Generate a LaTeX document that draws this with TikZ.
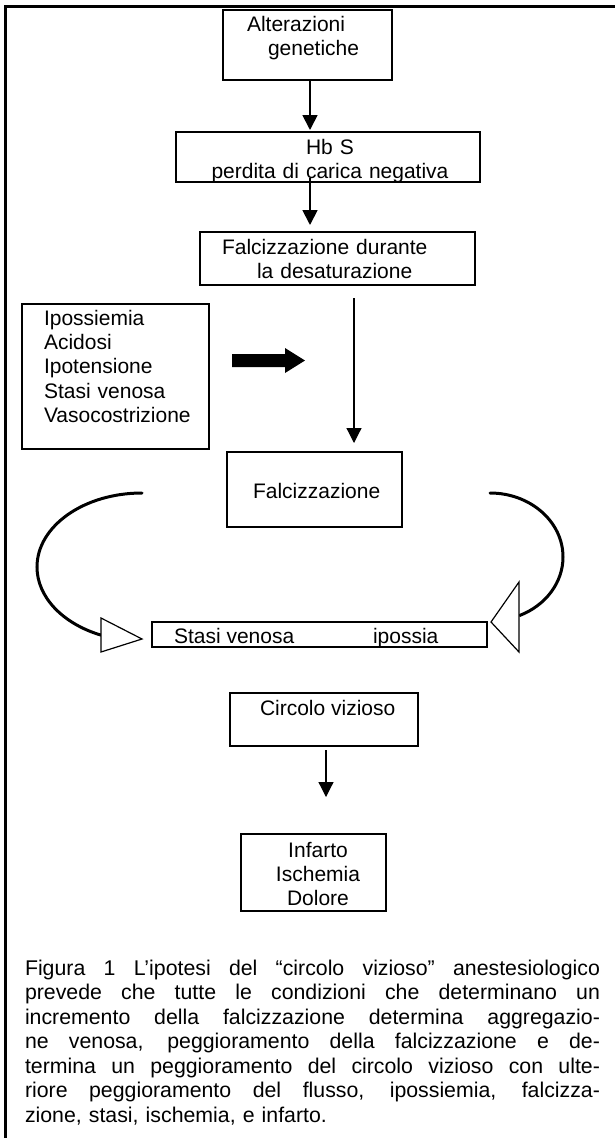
\documentclass[tikz,border=0pt]{standalone}
\usepackage{fontspec}
\setmainfont{Liberation Sans}
\usetikzlibrary{arrows.meta}
\newcommand{\jline}[1]{\makebox[575pt][s]{\spaceskip=5.9pt plus 1fil\xspaceskip=5.9pt plus 1fil\relax #1}}
\begin{document}
\begin{tikzpicture}[x=1pt,y=-1pt,
  every node/.style={font=\fontsize{21}{24.4}\selectfont, inner sep=0pt, outer sep=0pt},
  box/.style 2 args={draw, line width=1.8pt, minimum width=#1, minimum height=#2},
  arr/.style={-{Triangle[length=15pt,width=15pt]}, line width=1.8pt},
  arrthin/.style={-{Triangle[length=15pt,width=15pt]}, line width=1.2pt},
  curvestroke/.style={line width=3pt, line cap=round},
  tri/.style={draw, fill=white, line width=1.2pt, line join=miter}]
\useasboundingbox (0,0) rectangle (615,1138);
\fill[white] (0,0) rectangle (615,1138);
% frame
\draw[line width=3pt] (5,1145) -- (5,6.5) -- (620,6.5);
% boxes
\node[box={169pt}{70pt}] (b1) at (307.5,45) {};
\node[box={304pt}{50pt}] (b2) at (328,157) {};
\node[box={275pt}{53pt}] (b3) at (337.5,258.5) {};
\node[box={187pt}{145pt}] (lb) at (115.5,376.5) {};
\node[box={175pt}{75pt}] (fb) at (314.5,489.5) {};
\node[box={335pt}{25pt}] (sb) at (319.5,634.5) {};
\node[box={188pt}{53pt}] (cb) at (324,719.5) {};
\node[box={145pt}{77pt}] (ib) at (313.5,872.5) {};
% texts
\node[anchor=base west, text width=160pt, align=left] (t1) at (247,31) {Alterazioni\\\hspace*{21pt}genetiche};
\node[anchor=base, text width=280pt, align=center] (t2) at (330,154) {Hb S\\perdita di carica negativa};
\node[anchor=base west, text width=240pt, align=left] (t3) at (222,254) {Falcizzazione durante\\\hspace*{35pt}la desaturazione};
\node[anchor=base west, text width=165pt, align=left] (t4) at (44,325) {Ipossiemia\\Acidosi\\Ipotensione\\Stasi venosa\\Vasocostrizione};
\node[anchor=base west] (t5) at (253,498) {Falcizzazione};
\node[anchor=base west] (t6) at (174,643) {Stasi venosa};
\node[anchor=base west] (t7) at (373,643) {ipossia};
\node[anchor=base west] (t8) at (260,715) {Circolo vizioso};
\node[anchor=base, text width=140pt, align=center] (t9) at (318,857) {Infarto\\Ischemia\\Dolore};
% arrows
\coordinate (ax) at (310,0);
\coordinate (vx) at (354,0);
\coordinate (cx) at (326,0);
\draw[arr, shorten >=2pt] (b1.south -| ax) -- (b2.north -| ax);
\draw[arr, shorten <=-4pt, shorten >=7pt] (b2.south -| ax) -- (b3.north -| ax);
\draw[arrthin, shorten <=13pt, shorten >=9pt] (b3.south -| vx) -- (fb.north -| vx);
\draw[arrthin, shorten <=4pt, shorten >=37pt] (cb.south -| cx) -- (ib.north -| cx);
% thick block arrow
\coordinate (ta) at (232,360.5);
\fill (ta) ++(0,-6.5) -- ++(53,0) -- ++(0,-6) -- ++(20,12.5) -- ++(-20,12.5) -- ++(0,-6) -- ++(-53,0) -- cycle;
% vicious circle curves
\coordinate (lc) at (142,493);
\coordinate (rc) at (490,493);
\draw[curvestroke] (lc) arc[start angle=270, end angle=113, x radius=105, y radius=74];
\draw[curvestroke] (rc) arc[start angle=-90, end angle=66, x radius=73, y radius=64];
\draw[tri] (101,618) -- (101,652) -- (142,639) -- cycle;
\draw[tri] (519,582) -- (519,652) -- (491,622) -- cycle;
% caption
\node[anchor=base west, text width=575pt, align=left, font=\fontsize{21.3}{24.5}\selectfont] (cap) at (25,975) {%
\jline{Figura 1 L’ipotesi del “circolo vizioso” anestesiologico}\\
\jline{prevede che tutte le condizioni che determinano un}\\
\jline{incremento della falcizzazione determina aggregazio-}\\
\jline{ne venosa, peggioramento della falcizzazione e de-}\\
\jline{termina un peggioramento del circolo vizioso con ulte-}\\
\jline{riore peggioramento del flusso, ipossiemia, falcizza-}\\
zione, stasi, ischemia, e infarto.};
\end{tikzpicture}
\end{document}
